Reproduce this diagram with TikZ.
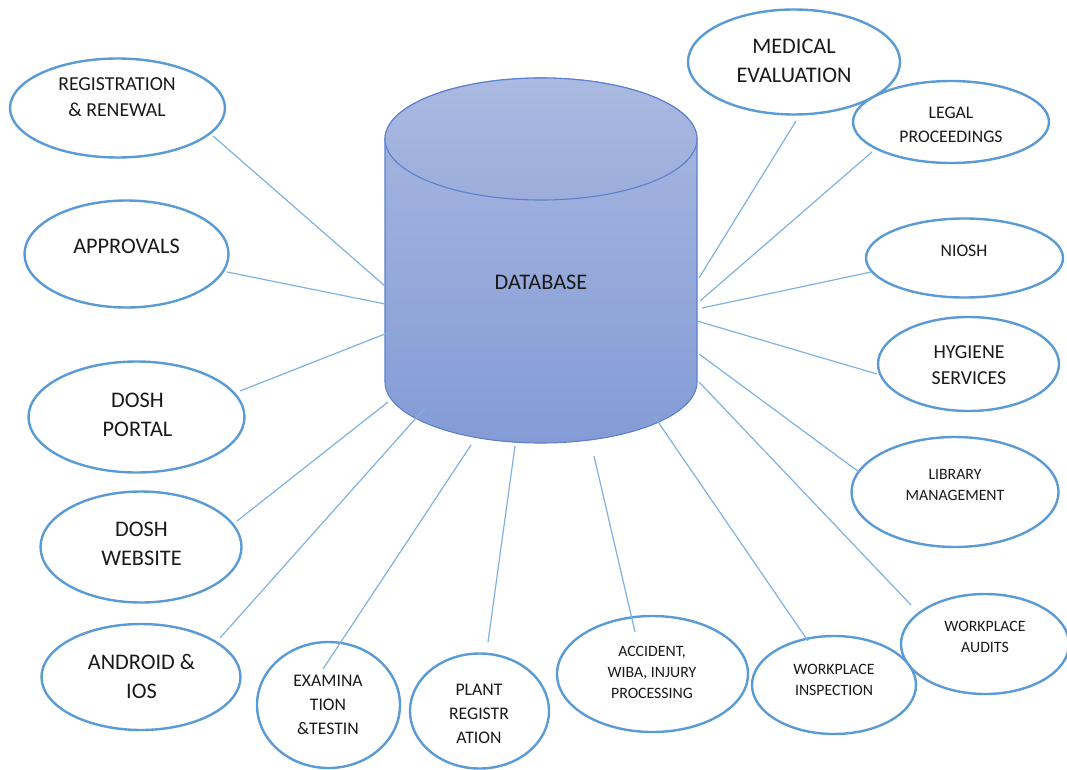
\documentclass[tikz,border=0pt]{standalone}
\usepackage{fontspec}
\setmainfont{Carlito}
\usetikzlibrary{shapes.geometric}
\definecolor{ovalline}{HTML}{5B9BD5}
\definecolor{connline}{HTML}{7FB2E0}
\definecolor{cylline}{HTML}{5B80CC}
\definecolor{bodytop}{HTML}{A9B8E0}
\definecolor{bodybot}{HTML}{849BD6}
\definecolor{lidtop}{HTML}{AABAE1}
\definecolor{lidbot}{HTML}{9CADDB}
\definecolor{txtcol}{HTML}{1A1A1A}
\tikzset{
  oval/.style={ellipse,draw=ovalline,line width=2.4pt,fill=white,inner sep=0pt,outer sep=0pt},
  conn/.style={draw=connline,line width=1.2pt},
  txtbase/.style={align=center,text=txtcol,inner sep=0pt},
  txtA/.style={txtbase,font=\fontsize{15.8}{21}\selectfont},
  txtB/.style={txtbase,font=\fontsize{17.7}{23.7}\selectfont},
  txtC/.style={txtbase,font=\fontsize{19.8}{26}\selectfont},
  txtD/.style={txtbase,font=\fontsize{22.3}{29}\selectfont},
}
\newcommand{\ov}[5]{%
  \node[oval,minimum width=#3pt,minimum height=#4pt] (#5) at (#1,#2) {};}
\begin{document}
\begin{tikzpicture}[x=1pt,y=-1pt]
\useasboundingbox (0,0) rectangle (1067,770);
% cylinder
\path[draw=cylline,line width=1.1pt,top color=bodytop,bottom color=bodybot]
  (385,139) -- (385,382) arc[start angle=180,end angle=0,x radius=156,y radius=61]
  -- (697,139) arc[start angle=0,end angle=-180,x radius=156,y radius=61] -- cycle;
\path[draw=cylline,line width=1.1pt,top color=lidtop,bottom color=lidbot]
  (541,139) ellipse[x radius=156,y radius=61];
\node[txtD] (db) at (541,282) {DATABASE};
% ovals
\ov{117.5}{108}{215}{99}{reg}
\ov{126.5}{254}{204}{107}{appr}
\ov{136.5}{417}{216}{111}{portal}
\ov{141}{547}{201}{111}{web}
\ov{141}{677}{199}{106}{andr}
\ov{328.5}{705}{143}{126}{exam}
\ov{479.5}{711}{139}{115}{plant}
\ov{652.5}{674}{191}{116}{acc}
\ov{985}{644}{168}{100}{aud}
\ov{834}{685}{164}{98}{insp}
\ov{955}{492}{207}{110}{lib}
\ov{968.5}{364}{181}{94}{hyg}
\ov{964.5}{258}{197}{79}{niosh}
\ov{794}{62}{212}{105}{med}
\ov{951}{122}{196}{82}{legal}
% labels
\node[txtC] (regt) at (117,97) {REGISTRATION\\\& RENEWAL};
\node[txtD] (apprt) at (126.5,246) {APPROVALS};
\node[txtD] (portalt) at (137.5,414.5) {DOSH\\PORTAL};
\node[txtD] (webt) at (141.5,544) {DOSH\\WEBSITE};
\node[txtD] (andrt) at (141.5,676) {ANDROID \&\\IOS};
\node[txtB] (examt) at (328,705) {EXAMINA\\TION\\\&TESTIN};
\node[txtB] (plantt) at (479,714) {PLANT\\REGISTR\\ATION};
\node[txtA] (acct) at (652,672) {ACCIDENT,\\WIBA, INJURY\\PROCESSING};
\node[txtA] (inspt) at (834,679.5) {WORKPLACE\\INSPECTION};
\node[txtA] (audt) at (985,637) {WORKPLACE\\AUDITS};
\node[txtA] (libt) at (955,484.5) {LIBRARY\\MANAGEMENT};
\node[txtC] (hygt) at (969,365) {HYGIENE\\SERVICES};
\node[txtB] (nioshT) at (964,251) {NIOSH};
\node[txtD] (medt) at (794,60.5) {MEDICAL\\EVALUATION};
\node[txtB] (legalt) at (951,124.5) {LEGAL\\PROCEEDINGS};
% connectors
\foreach \n/\ax/\ay/\bx/\by in {
  reg/213/136/385/286, appr/227/272/385/304, portal/240/391/390/332,
  web/237/521/388/402, andr/220/638/425/408, exam/323/669/471/445,
  plant/488/642/515/446, acc/635/632/594/456, insp/808/641/654/416,
  aud/911/605/699/382, lib/859/472/699/354, hyg/877/374/697/321,
  niosh/871/272/702/308, legal/872/152/700/301, med/796/121/699/278}{
  \coordinate (\n-a) at (\ax,\ay);
  \coordinate (\n-b) at (\bx,\by);
  \draw[conn] (\n-a) -- (\n-b);
}
\end{tikzpicture}
\end{document}
